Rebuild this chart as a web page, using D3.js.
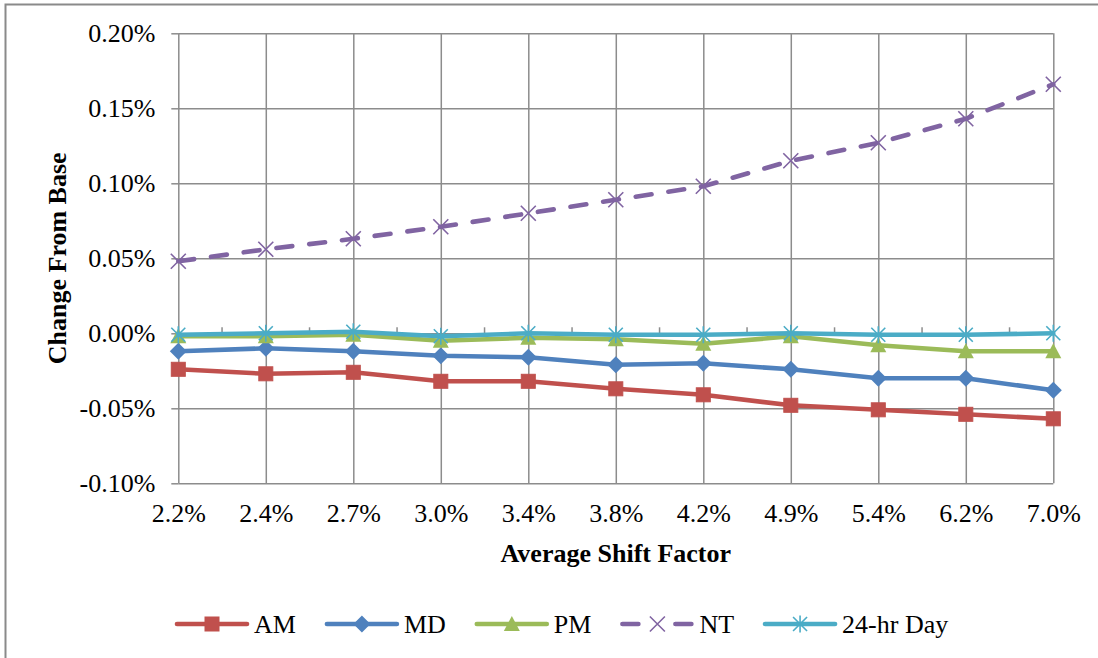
<!DOCTYPE html>
<html>
<head>
<meta charset="utf-8">
<script src="https://cdn.jsdelivr.net/npm/d3@7"></script>
<style>
  html, body { margin: 0; padding: 0; background: #fff; }
  svg { display: block; }
  text { font-family: "Liberation Serif", "Times New Roman", serif; fill: #000; }
</style>
</head>
<body>
<svg id="chart" width="1098" height="658"></svg>
<script>
// Average shift factor categories (x axis)
const shiftFactors = ["2.2%", "2.4%", "2.7%", "3.0%", "3.4%", "3.8%", "4.2%", "4.9%", "5.4%", "6.2%", "7.0%"];

// Change from base, in percent
const amValues  = [-0.024, -0.027, -0.026, -0.032, -0.032, -0.037, -0.041, -0.048, -0.051, -0.054, -0.057];
const mdValues  = [-0.012, -0.010, -0.012, -0.015, -0.016, -0.021, -0.020, -0.024, -0.030, -0.030, -0.038];
const pmValues  = [-0.002, -0.002, -0.001, -0.005, -0.003, -0.004, -0.007, -0.002, -0.008, -0.012, -0.012];
const ntValues  = [0.048, 0.056, 0.063, 0.071, 0.080, 0.089, 0.098, 0.115, 0.127, 0.143, 0.166];
const dayValues = [-0.001, 0.000, 0.001, -0.002, 0.000, -0.001, -0.001, 0.000, -0.001, -0.001, 0.000];

// Y axis tick values, in percent
const yTicks = [-0.10, -0.05, 0.00, 0.05, 0.10, 0.15, 0.20];

const seriesNames = ["AM", "MD", "PM", "NT", "24-hr Day"];

const series = [
  { name: seriesNames[0], values: amValues,  color: "#C0504D", marker: "square" },
  { name: seriesNames[1], values: mdValues,  color: "#4F81BD", marker: "diamond" },
  { name: seriesNames[2], values: pmValues,  color: "#9BBB59", marker: "triangle" },
  { name: seriesNames[3], values: ntValues,  color: "#8064A2", marker: "x", dashed: true },
  { name: seriesNames[4], values: dayValues, color: "#4BACC6", marker: "star" }
];

const svg = d3.select("#chart");
const plot = { left: 178.3, right: 1053.3, top: 33.3, bottom: 483.3 };
const gridColor = "#8c8c8c";

// outer chart frame
svg.append("rect")
  .attr("x", 5.5).attr("y", 4.5)
  .attr("width", 1200).attr("height", 800)
  .attr("fill", "none").attr("stroke", "#8a8a8a").attr("stroke-width", 2);

const x = d3.scalePoint().domain(shiftFactors).range([plot.left, plot.right]).padding(0);
const y = d3.scaleLinear().domain([-0.10, 0.20]).range([plot.bottom, plot.top]);
// plain hyphen for negatives
const fmt = v => d3.format(".2f")(v).replace("\u2212", "-") + "%";

// horizontal gridlines + y tick labels
const yAxis = d3.axisLeft(y).tickValues(yTicks).tickFormat(fmt)
  .tickSizeInner(-(plot.right - plot.left)).tickSizeOuter(0).tickPadding(23);
const gy = svg.append("g").attr("transform", `translate(${plot.left},0)`).call(yAxis);
gy.select(".domain").remove();
gy.selectAll(".tick line").attr("stroke", gridColor).attr("stroke-width", 1.5);
gy.selectAll(".tick text").attr("font-size", 26).attr("font-family", "Liberation Serif").attr("fill", "#000");
// small outside ticks on the value axis
gy.selectAll(".tick").append("line")
  .attr("x1", -7).attr("x2", 0).attr("stroke", gridColor).attr("stroke-width", 1.5);

// vertical gridlines + category labels
const xAxis = d3.axisBottom(x).tickSizeInner(-(plot.bottom - plot.top)).tickSizeOuter(0).tickPadding(20);
const gx = svg.append("g").attr("transform", `translate(0,${plot.bottom})`).call(xAxis);
gx.select(".domain").remove();
gx.selectAll(".tick line").attr("stroke", gridColor).attr("stroke-width", 1.5);
gx.selectAll(".tick text").attr("font-size", 26).attr("font-family", "Liberation Serif").attr("fill", "#000");

// category axis line at zero, with tick marks between categories
const y0 = y(0);
const mids = shiftFactors.slice(1).map((c, i) => (x(shiftFactors[i]) + x(c)) / 2);
svg.append("g").selectAll("line").data(mids).join("line")
  .attr("x1", d => d).attr("x2", d => d)
  .attr("y1", y0 - 6).attr("y2", y0)
  .attr("stroke", gridColor).attr("stroke-width", 1.5);

// axis titles
svg.append("text")
  .attr("x", (plot.left + plot.right) / 2).attr("y", 562)
  .attr("text-anchor", "middle").attr("font-size", 26).attr("font-weight", "bold")
  .text("Average Shift Factor");
svg.append("text")
  .attr("transform", `translate(66,${(plot.top + plot.bottom) / 2}) rotate(-90)`)
  .attr("text-anchor", "middle").attr("font-size", 26).attr("font-weight", "bold")
  .text("Change From Base");

// marker drawing
function drawMarker(g, type, color) {
  if (type === "square") {
    g.append("rect").attr("x", -7).attr("y", -7).attr("width", 14).attr("height", 14)
      .attr("fill", color).attr("stroke", color).attr("stroke-width", 1);
  } else if (type === "diamond") {
    g.append("path").attr("d", "M0,-8.5L8.5,0L0,8.5L-8.5,0Z").attr("fill", color);
  } else if (type === "triangle") {
    g.append("path").attr("d", "M0,-8L8,7L-8,7Z").attr("fill", color);
  } else if (type === "x") {
    g.append("path").attr("d", "M-7.5,-7.5L7.5,7.5M-7.5,7.5L7.5,-7.5")
      .attr("stroke", color).attr("stroke-width", 1.6).attr("fill", "none");
  } else if (type === "star") {
    g.append("path").attr("d", "M-7,-7L7,7M-7,7L7,-7M0,-8.5L0,8.5")
      .attr("stroke", color).attr("stroke-width", 1.6).attr("fill", "none");
  }
}

const line = d3.line().x((d, i) => x(shiftFactors[i])).y(d => y(d));

series.forEach(s => {
  const g = svg.append("g");
  g.append("path").datum(s.values)
    .attr("d", line)
    .attr("fill", "none").attr("stroke", s.color).attr("stroke-width", 4.6)
    .attr("stroke-linejoin", "round").attr("stroke-linecap", "round")
    .attr("stroke-dasharray", s.dashed ? "16,17" : null);
  s.values.forEach((v, i) => {
    const m = g.append("g").attr("transform", `translate(${x(shiftFactors[i])},${y(v)})`);
    drawMarker(m, s.marker, s.color);
  });
});

// legend
const legend = svg.append("g").attr("transform", "translate(0,624)");
let lx = 177;
series.forEach(s => {
  const item = legend.append("g").attr("transform", `translate(${lx},0)`);
  item.append("line").attr("x1", 0).attr("x2", 70).attr("y1", 0).attr("y2", 0)
    .attr("stroke", s.color).attr("stroke-width", 4.6).attr("stroke-linecap", "round")
    .attr("stroke-dasharray", s.dashed ? "16,37" : null);
  drawMarker(item.append("g").attr("transform", "translate(35,0)"), s.marker, s.color);
  const t = item.append("text").attr("x", 77).attr("y", 9).attr("font-size", 26).text(s.name);
  lx += 77 + t.node().getComputedTextLength() + 31;
});
</script>
</body>
</html>
